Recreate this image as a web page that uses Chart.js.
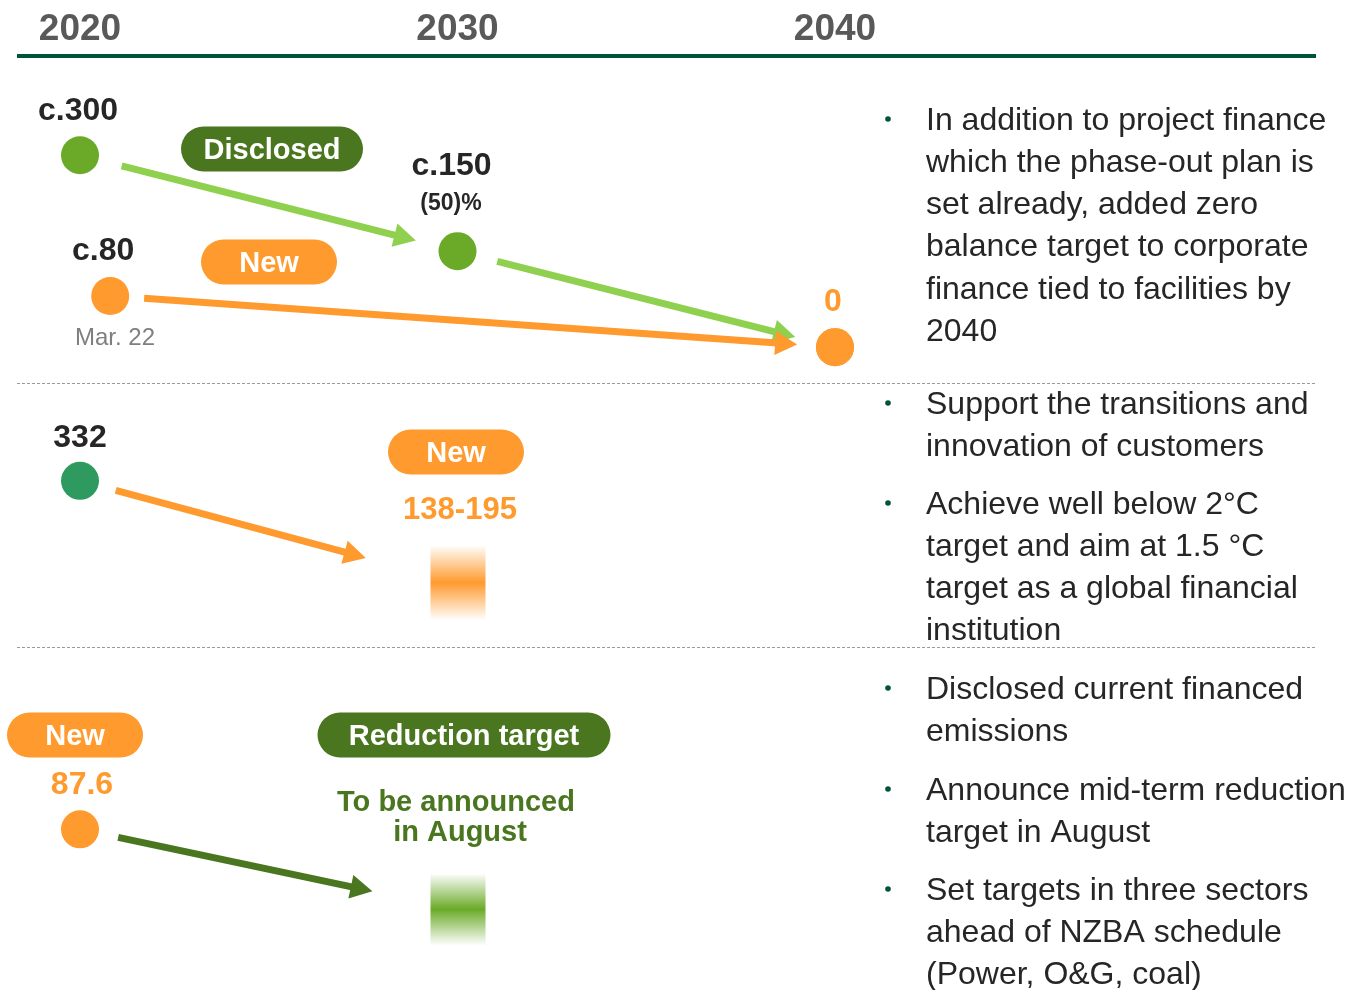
<!DOCTYPE html>
<html>
<head>
<meta charset="utf-8">
<script src="https://cdn.jsdelivr.net/npm/chart.js@4"></script>
<style>
  html, body { margin: 0; padding: 0; background: #fff; }
  #wrap { width: 1347px; height: 990px; position: relative; }
</style>
</head>
<body>
<div id="wrap"><canvas id="roadmap"></canvas></div>
<script>
// timeline
const years = [2020, 2030, 2040];

// coal: project finance (already disclosed) and corporate finance (new)
const coalPfYears = [2020, 2030, 2040];
const coalPf = [300, 150, 0];
const coalPfLabels = ['c.300', 'c.150', ''];
const coalCfYears = [2020.8, 2040];
const coalCf = [80, 0];
const coalCfLabels = ['c.80', '0'];

// power: current intensity and 2030 target range
const powerYears = [2020];
const power = [332];
const powerLabels = ['332'];
const powerTarget = [138, 195];

// oil & gas: current financed emissions, target to be announced
const ogYears = [2020];
const og = [87.6];
const ogLabels = ['87.6'];

const bullets = [
  ['In addition to project finance', 'which the phase-out plan is', 'set already, added zero',
   'balance target to corporate', 'finance tied to facilities by', '2040'],
  ['Support the transitions and', 'innovation of customers'],
  ['Achieve well below 2°C', 'target and aim at 1.5 °C', 'target as a global financial', 'institution'],
  ['Disclosed current financed', 'emissions'],
  ['Announce mid-term reduction', 'target in August'],
  ['Set targets in three sectors', 'ahead of NZBA schedule', '(Power, O&G, coal)']
];

const ORANGE = '#ff9a2e', LIME = '#8fd14f', GREEN = '#6aaa28', DARK = '#4a761f',
      TEAL = '#2e9a5f', RULE = '#00543a', INK = '#262626';
const FONT = '"Liberation Sans", Arial, sans-serif';

const pts = (xs, ys) => ys.map((v, i) => ({ x: xs[i], y: v }));

// bits of layout that are not data
const pills = [
  { text: 'Disclosed', cx: 272, cy: 149, w: 182, fill: DARK },
  { text: 'New', cx: 269, cy: 262, w: 136, fill: ORANGE },
  { text: 'New', cx: 456, cy: 452, w: 136, fill: ORANGE },
  { text: 'New', cx: 75, cy: 735, w: 136, fill: ORANGE },
  { text: 'Reduction target', cx: 464, cy: 735, w: 293, fill: DARK }
];
const notes = [
  { text: '(50)%', x: 451, y: 202, font: 'bold 23px', color: INK },
  { text: 'Mar. 22', x: 115, y: 336, font: '24px', color: '#7f7f7f' },
  { text: powerTarget.join('-'), x: 460, y: 508, font: 'bold 31px', color: ORANGE },
  { text: 'To be announced', x: 456, y: 801, font: 'bold 29px', color: DARK },
  { text: 'in August', x: 460, y: 831, font: 'bold 29px', color: DARK }
];
const bulletTops = [119, 403, 503, 688, 789, 889];
const TY = 2; // 'middle' baseline sits a touch high for this font

function rgba(hex, a) {
  const n = parseInt(hex.slice(1), 16);
  return `rgba(${n >> 16},${(n >> 8) & 255},${n & 255},${a})`;
}

function arrow(ctx, p, q, g0, g1, color) {
  const dx = q.x - p.x, dy = q.y - p.y, L = Math.hypot(dx, dy);
  const ux = dx / L, uy = dy / L;
  const sx = p.x + ux * g0, sy = p.y + uy * g0;
  const ex = q.x - ux * g1, ey = q.y - uy * g1;
  const head = 22, half = 12;
  const bx = ex - ux * head, by = ey - uy * head;
  ctx.strokeStyle = color;
  ctx.lineWidth = 7;
  ctx.beginPath();
  ctx.moveTo(sx, sy);
  ctx.lineTo(bx + ux * 2, by + uy * 2);
  ctx.stroke();
  ctx.fillStyle = color;
  ctx.beginPath();
  ctx.moveTo(ex, ey);
  ctx.lineTo(bx - uy * half, by + ux * half);
  ctx.lineTo(bx + uy * half, by - ux * half);
  ctx.closePath();
  ctx.fill();
}

function bands(chart) {
  const s = chart.scales;
  const x = s.x.getPixelForValue(2030);
  const ogDot = chart.getDatasetMeta(3).data[0];
  return [
    { x, top: s.yPower.getPixelForValue(powerTarget[1]) - 20,
      bottom: s.yPower.getPixelForValue(powerTarget[0]) + 20, color: ORANGE },
    { x, top: ogDot.y + 44, bottom: ogDot.y + 116, color: GREEN }
  ];
}

const deco = {
  id: 'deco',
  beforeDatasetsDraw(chart) {
    const { ctx, chartArea: a, scales: s } = chart;
    ctx.save();
    // dotted separators between the sectors
    ctx.strokeStyle = '#9a9a9a';
    ctx.lineWidth = 1;
    ctx.setLineDash([3, 2]);
    [s.yCoal.bottom, s.yPower.bottom].forEach(y => {
      const yy = Math.round(y) + 0.5;
      ctx.beginPath();
      ctx.moveTo(a.left - 2, yy);
      ctx.lineTo(a.right, yy);
      ctx.stroke();
    });
    ctx.setLineDash([]);

    const bb = bands(chart);
    bb.forEach(b => {
      const g = ctx.createLinearGradient(0, b.top, 0, b.bottom);
      g.addColorStop(0, rgba(b.color, 0));
      g.addColorStop(0.5, rgba(b.color, 1));
      g.addColorStop(1, rgba(b.color, 0));
      ctx.fillStyle = g;
      ctx.fillRect(b.x - 27, b.top, 55, b.bottom - b.top);
    });

    const pt = (d, i) => chart.getDatasetMeta(d).data[i];
    const mid = b => ({ x: b.x, y: (b.top + b.bottom) / 2 });
    arrow(ctx, pt(1, 0), pt(1, 1), 43, 43, LIME);
    arrow(ctx, pt(1, 1), pt(1, 2), 41, 41, LIME);
    arrow(ctx, pt(0, 0), pt(0, 1), 34, 38, ORANGE);
    arrow(ctx, pt(2, 0), mid(bb[0]), 37, 95, ORANGE);
    arrow(ctx, pt(3, 0), mid(bb[1]), 39, 87, DARK);
    ctx.restore();
  },
  afterDatasetsDraw(chart) {
    const { ctx } = chart;
    ctx.save();
    ctx.textAlign = 'center';
    ctx.textBaseline = 'middle';

    // value tags over the dots
    chart.data.datasets.forEach((ds, d) => {
      const meta = chart.getDatasetMeta(d);
      ds.tags.forEach((t, i) => {
        if (!t) return;
        const el = meta.data[i];
        ctx.font = `bold 32px ${FONT}`;
        ctx.fillStyle = ds.tagColor[i];
        ctx.fillText(t, el.x + ds.tagDx[i], el.y + ds.tagDy[i] + TY);
      });
    });

    pills.forEach(p => {
      ctx.fillStyle = p.fill;
      ctx.beginPath();
      ctx.roundRect(p.cx - p.w / 2, p.cy - 22.5, p.w, 45, 22.5);
      ctx.fill();
      ctx.fillStyle = '#fff';
      ctx.font = `bold 29px ${FONT}`;
      ctx.fillText(p.text, p.cx, p.cy + TY);
    });

    notes.forEach(n => {
      ctx.font = `${n.font} ${FONT}`;
      ctx.fillStyle = n.color;
      ctx.fillText(n.text, n.x, n.y + TY);
    });

    // right-hand commentary
    ctx.textAlign = 'left';
    bullets.forEach((lines, b) => {
      const y0 = bulletTops[b];
      ctx.fillStyle = RULE;
      ctx.beginPath();
      ctx.arc(888, y0, 2.8, 0, Math.PI * 2);
      ctx.fill();
      ctx.fillStyle = INK;
      ctx.font = `32px ${FONT}`;
      lines.forEach((ln, i) => ctx.fillText(ln, 926, y0 + i * 42.2 + TY));
    });
    ctx.restore();
  }
};

const dot = { pointRadius: 19, pointHoverRadius: 19, pointBorderWidth: 0, borderWidth: 0 };

new Chart(document.getElementById('roadmap'), {
  type: 'scatter',
  data: {
    datasets: [
      { ...dot, label: 'Coal corporate finance', data: pts(coalCfYears, coalCf), yAxisID: 'yCoal',
        backgroundColor: ORANGE, pointBackgroundColor: ORANGE,
        tags: coalCfLabels, tagColor: [INK, ORANGE], tagDx: [-7, -2], tagDy: [-47, -47] },
      { ...dot, label: 'Coal project finance', data: pts(coalPfYears, coalPf), yAxisID: 'yCoal',
        backgroundColor: GREEN, pointBackgroundColor: [GREEN, GREEN, ORANGE],
        tags: coalPfLabels, tagColor: [INK, INK, INK], tagDx: [-2, -6, 0], tagDy: [-46, -87, 0] },
      { ...dot, label: 'Power', data: pts(powerYears, power), yAxisID: 'yPower',
        backgroundColor: TEAL, pointBackgroundColor: TEAL,
        tags: powerLabels, tagColor: [INK], tagDx: [0], tagDy: [-45] },
      { ...dot, label: 'Oil & gas', data: pts(ogYears, og), yAxisID: 'yOG',
        backgroundColor: ORANGE, pointBackgroundColor: ORANGE,
        tags: ogLabels, tagColor: [ORANGE], tagDx: [2], tagDy: [-46] }
    ]
  },
  options: {
    responsive: true,
    maintainAspectRatio: false,
    animation: false,
    events: [],
    layout: { autoPadding: false, padding: { left: 19, right: 32, top: 0, bottom: 0 } },
    plugins: { legend: { display: false }, tooltip: { enabled: false } },
    scales: {
      x: {
        type: 'linear',
        position: 'top',
        min: 2018.384,
        max: 2052.715,
        afterBuildTicks: s => { s.ticks = years.map(v => ({ value: v })); },
        afterFit: s => { s.height = 56; },
        grid: { display: false, drawTicks: false },
        border: { display: true, color: RULE, width: 4 },
        ticks: {
          padding: 4,
          maxRotation: 0,
          autoSkip: false,
          color: '#595959',
          font: { family: FONT, size: 37, weight: 'bold' },
          callback: v => String(v)
        }
      },
      yCoal: { type: 'linear', display: false, stack: 'rows', stackWeight: 327, weight: 3, min: -56, max: 455 },
      yPower: { type: 'linear', display: false, stack: 'rows', stackWeight: 264, weight: 2, min: 62, max: 491 },
      yOG: { type: 'linear', display: false, stack: 'rows', stackWeight: 343, weight: 1, min: 0, max: 187 }
    }
  },
  plugins: [deco]
});
</script>
</body>
</html>
